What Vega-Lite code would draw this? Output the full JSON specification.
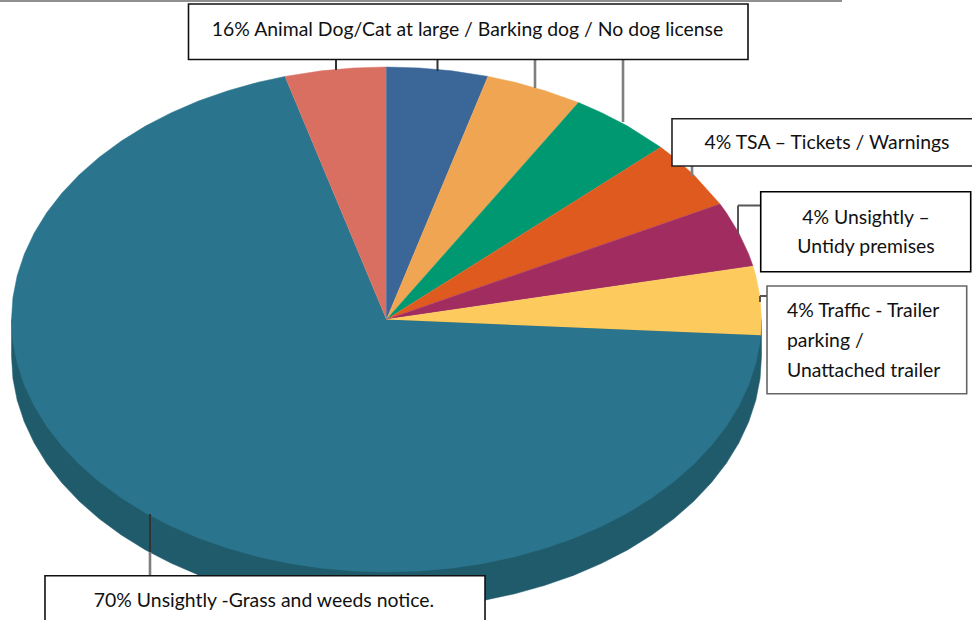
{"$schema":"https://vega.github.io/schema/vega-lite/v6.json","width":972,"height":620,"padding":0,"autosize":{"type":"none"},"background":"white","view":{"stroke":null},
"config":{"axis":{"disable":true},"text":{"font":"Lato"}},
"datasets":{
"rim":[{"p":0,"x":1,"y":0},{"p":1,"x":1,"y":-0.1465},{"p":2,"x":0.9962,"y":-0.2337},{"p":3,"x":0.9848,"y":-0.3201},{"p":4,"x":0.9659,"y":-0.4053},{"p":5,"x":0.9397,"y":-0.4885},{"p":6,"x":0.9063,"y":-0.5691},{"p":7,"x":0.866,"y":-0.6465},{"p":8,"x":0.8192,"y":-0.7201},{"p":9,"x":0.766,"y":-0.7893},{"p":10,"x":0.7071,"y":-0.8536},{"p":11,"x":0.6428,"y":-0.9125},{"p":12,"x":0.5736,"y":-0.9657},{"p":13,"x":0.5,"y":-1.0125},{"p":14,"x":0.4226,"y":-1.0528},{"p":15,"x":0.342,"y":-1.0862},{"p":16,"x":0.2588,"y":-1.1124},{"p":17,"x":0.1736,"y":-1.1313},{"p":18,"x":0.0872,"y":-1.1427},{"p":19,"x":0,"y":-1.1465},{"p":20,"x":-0.0872,"y":-1.1427},{"p":21,"x":-0.1736,"y":-1.1313},{"p":22,"x":-0.2588,"y":-1.1124},{"p":23,"x":-0.342,"y":-1.0862},{"p":24,"x":-0.4226,"y":-1.0528},{"p":25,"x":-0.5,"y":-1.0125},{"p":26,"x":-0.5736,"y":-0.9657},{"p":27,"x":-0.6428,"y":-0.9125},{"p":28,"x":-0.7071,"y":-0.8536},{"p":29,"x":-0.766,"y":-0.7893},{"p":30,"x":-0.8192,"y":-0.7201},{"p":31,"x":-0.866,"y":-0.6465},{"p":32,"x":-0.9063,"y":-0.5691},{"p":33,"x":-0.9397,"y":-0.4885},{"p":34,"x":-0.9659,"y":-0.4053},{"p":35,"x":-0.9848,"y":-0.3201},{"p":36,"x":-0.9962,"y":-0.2337},{"p":37,"x":-1,"y":-0.1465},{"p":38,"x":-1,"y":0}],
"slices":[
{"slice":"Grass and weeds","p":0,"x":0,"y":0},{"slice":"Grass and weeds","p":1,"x":0.998,"y":-0.0628},{"slice":"Grass and weeds","p":2,"x":0.9962,"y":-0.0872},{"slice":"Grass and weeds","p":3,"x":0.9848,"y":-0.1736},{"slice":"Grass and weeds","p":4,"x":0.9659,"y":-0.2588},{"slice":"Grass and weeds","p":5,"x":0.9397,"y":-0.342},{"slice":"Grass and weeds","p":6,"x":0.9063,"y":-0.4226},{"slice":"Grass and weeds","p":7,"x":0.866,"y":-0.5},{"slice":"Grass and weeds","p":8,"x":0.8192,"y":-0.5736},{"slice":"Grass and weeds","p":9,"x":0.766,"y":-0.6428},{"slice":"Grass and weeds","p":10,"x":0.7071,"y":-0.7071},{"slice":"Grass and weeds","p":11,"x":0.6428,"y":-0.766},{"slice":"Grass and weeds","p":12,"x":0.5736,"y":-0.8192},{"slice":"Grass and weeds","p":13,"x":0.5,"y":-0.866},{"slice":"Grass and weeds","p":14,"x":0.4226,"y":-0.9063},{"slice":"Grass and weeds","p":15,"x":0.342,"y":-0.9397},{"slice":"Grass and weeds","p":16,"x":0.2588,"y":-0.9659},{"slice":"Grass and weeds","p":17,"x":0.1736,"y":-0.9848},{"slice":"Grass and weeds","p":18,"x":0.0872,"y":-0.9962},{"slice":"Grass and weeds","p":19,"x":0,"y":-1},{"slice":"Grass and weeds","p":20,"x":-0.0872,"y":-0.9962},{"slice":"Grass and weeds","p":21,"x":-0.1736,"y":-0.9848},{"slice":"Grass and weeds","p":22,"x":-0.2588,"y":-0.9659},{"slice":"Grass and weeds","p":23,"x":-0.342,"y":-0.9397},{"slice":"Grass and weeds","p":24,"x":-0.4226,"y":-0.9063},{"slice":"Grass and weeds","p":25,"x":-0.5,"y":-0.866},{"slice":"Grass and weeds","p":26,"x":-0.5736,"y":-0.8192},{"slice":"Grass and weeds","p":27,"x":-0.6428,"y":-0.766},{"slice":"Grass and weeds","p":28,"x":-0.7071,"y":-0.7071},{"slice":"Grass and weeds","p":29,"x":-0.766,"y":-0.6428},{"slice":"Grass and weeds","p":30,"x":-0.8192,"y":-0.5736},{"slice":"Grass and weeds","p":31,"x":-0.866,"y":-0.5},{"slice":"Grass and weeds","p":32,"x":-0.9063,"y":-0.4226},{"slice":"Grass and weeds","p":33,"x":-0.9397,"y":-0.342},{"slice":"Grass and weeds","p":34,"x":-0.9659,"y":-0.2588},{"slice":"Grass and weeds","p":35,"x":-0.9848,"y":-0.1736},{"slice":"Grass and weeds","p":36,"x":-0.9962,"y":-0.0872},{"slice":"Grass and weeds","p":37,"x":-1,"y":0},{"slice":"Grass and weeds","p":38,"x":-0.9962,"y":0.0872},{"slice":"Grass and weeds","p":39,"x":-0.9848,"y":0.1736},{"slice":"Grass and weeds","p":40,"x":-0.9659,"y":0.2588},{"slice":"Grass and weeds","p":41,"x":-0.9397,"y":0.342},{"slice":"Grass and weeds","p":42,"x":-0.9063,"y":0.4226},{"slice":"Grass and weeds","p":43,"x":-0.866,"y":0.5},{"slice":"Grass and weeds","p":44,"x":-0.8192,"y":0.5736},{"slice":"Grass and weeds","p":45,"x":-0.766,"y":0.6428},{"slice":"Grass and weeds","p":46,"x":-0.7071,"y":0.7071},{"slice":"Grass and weeds","p":47,"x":-0.6428,"y":0.766},{"slice":"Grass and weeds","p":48,"x":-0.5736,"y":0.8192},{"slice":"Grass and weeds","p":49,"x":-0.5,"y":0.866},{"slice":"Grass and weeds","p":50,"x":-0.4226,"y":0.9063},{"slice":"Grass and weeds","p":51,"x":-0.342,"y":0.9397},{"slice":"Grass and weeds","p":52,"x":-0.2706,"y":0.9627},
{"slice":"Dog at large","p":0,"x":0,"y":0},{"slice":"Dog at large","p":1,"x":-0.2706,"y":0.9627},{"slice":"Dog at large","p":2,"x":-0.1736,"y":0.9848},{"slice":"Dog at large","p":3,"x":-0.0872,"y":0.9962},{"slice":"Dog at large","p":4,"x":0,"y":1},
{"slice":"Cat at large","p":0,"x":0,"y":0},{"slice":"Cat at large","p":1,"x":0,"y":1},{"slice":"Cat at large","p":2,"x":0.0872,"y":0.9962},{"slice":"Cat at large","p":3,"x":0.1736,"y":0.9848},{"slice":"Cat at large","p":4,"x":0.2706,"y":0.9627},
{"slice":"Barking dog","p":0,"x":0,"y":0},{"slice":"Barking dog","p":1,"x":0.2706,"y":0.9627},{"slice":"Barking dog","p":2,"x":0.342,"y":0.9397},{"slice":"Barking dog","p":3,"x":0.4226,"y":0.9063},{"slice":"Barking dog","p":4,"x":0.512,"y":0.859},
{"slice":"No dog license","p":0,"x":0,"y":0},{"slice":"No dog license","p":1,"x":0.512,"y":0.859},{"slice":"No dog license","p":2,"x":0.5736,"y":0.8192},{"slice":"No dog license","p":3,"x":0.6428,"y":0.766},{"slice":"No dog license","p":4,"x":0.7314,"y":0.682},
{"slice":"TSA","p":0,"x":0,"y":0},{"slice":"TSA","p":1,"x":0.7314,"y":0.682},{"slice":"TSA","p":2,"x":0.766,"y":0.6428},{"slice":"TSA","p":3,"x":0.8192,"y":0.5736},{"slice":"TSA","p":4,"x":0.8894,"y":0.4571},
{"slice":"Untidy premises","p":0,"x":0,"y":0},{"slice":"Untidy premises","p":1,"x":0.8894,"y":0.4571},{"slice":"Untidy premises","p":2,"x":0.9063,"y":0.4226},{"slice":"Untidy premises","p":3,"x":0.9397,"y":0.342},{"slice":"Untidy premises","p":4,"x":0.9659,"y":0.2588},{"slice":"Untidy premises","p":5,"x":0.9774,"y":0.2113},
{"slice":"Trailer parking","p":0,"x":0,"y":0},{"slice":"Trailer parking","p":1,"x":0.9774,"y":0.2113},{"slice":"Trailer parking","p":2,"x":0.9848,"y":0.1736},{"slice":"Trailer parking","p":3,"x":0.9962,"y":0.0872},{"slice":"Trailer parking","p":4,"x":1,"y":0},{"slice":"Trailer parking","p":5,"x":0.998,"y":-0.0628}],
"leaders":[
{"name":"top rule","x":-1.0307,"x2":1.2147,"y":1.2614,"y2":1.2614},
{"name":"dark","x":-0.1347,"x2":-0.1347,"y":1.0277,"y2":0.9881},
{"name":"dark","x":0.136,"x2":0.136,"y":1.0277,"y2":0.9842},
{"name":"grey","x":0.396,"x2":0.396,"y":1.0277,"y2":0.9168},
{"name":"grey","x":0.6307,"x2":0.6307,"y":1.0277,"y2":0.7822},
{"name":"grey","x":0.8147,"x2":0.8147,"y":0.6079,"y2":0.5683},
{"name":"mid","x":0.9373,"x2":0.9987,"y":0.4515,"y2":0.4515},
{"name":"mid","x":0.9373,"x2":0.9373,"y":0.4515,"y2":0.3386},
{"name":"mid","x":0.996,"x2":1.0147,"y":0.0931,"y2":0.0931},
{"name":"mid","x":0.996,"x2":0.996,"y":0.0931,"y2":0.0693},
{"name":"dark","x":-0.6307,"x2":-0.6307,"y":-0.7703,"y2":-0.9208},
{"name":"grey","x":-0.6307,"x2":-0.6307,"y":-0.9208,"y2":-1.0147}],
"boxes":[
{"name":"Animal","x":-0.528,"x2":0.964,"y":1.2495,"y2":1.0297},
{"name":"TSA","x":0.7613,"x2":1.5667,"y":0.7952,"y2":0.6079},
{"name":"Untidy","x":0.9979,"x2":1.5579,"y":0.5061,"y2":0.1893},
{"name":"Traffic","x":1.0147,"x2":1.5472,"y":0.1327,"y2":-0.2939},
{"name":"Grass","x":-0.9107,"x2":0.2627,"y":-1.0147,"y2":-1.2297}],
"centered":[
{"label":"16% Animal Dog/Cat at large / Barking dog / No dog license","x":0.216,"y":1.1505},
{"label":"4% TSA – Tickets / Warnings","x":1.1747,"y":0.703},
{"label":"4% Unsightly –","x":1.2787,"y":0.4059},
{"label":"Untidy premises","x":1.2787,"y":0.2911},
{"label":"70% Unsightly -Grass and weeds notice.","x":-0.3267,"y":-1.1109}],
"lefted":[
{"label":"4% Traffic - Trailer","x":1.068,"y":0.0376},
{"label":"parking /","x":1.068,"y":-0.0812},
{"label":"Unattached trailer","x":1.068,"y":-0.2}]
},
"encoding":{
"x":{"field":"x","type":"quantitative","scale":{"domain":[-1.03067,1.56133],"nice":false,"zero":false},"axis":null},
"y":{"field":"y","type":"quantitative","scale":{"domain":[-1.1901,1.26535],"nice":false,"zero":false},"axis":null}
},
"layer":[
{"data":{"name":"rim"},"mark":{"type":"line","filled":true,"fill":"#205b6c","stroke":"#205b6c","strokeWidth":0.5},"encoding":{"order":{"field":"p","type":"quantitative"}}},
{"data":{"name":"slices"},"mark":{"type":"line","filled":true,"strokeWidth":0.5},"encoding":{
"order":{"field":"p","type":"quantitative"},
"fill":{"field":"slice","type":"nominal","legend":null,"scale":{"domain":["Grass and weeds","Dog at large","Cat at large","Barking dog","No dog license","TSA","Untidy premises","Trailer parking"],"range":["#2a758d","#d96f60","#3b6698","#f0a552","#009870","#df5a1f","#a12d60","#fdcb5d"]}},
"stroke":{"field":"slice","type":"nominal","legend":null,"scale":{"domain":["Grass and weeds","Dog at large","Cat at large","Barking dog","No dog license","TSA","Untidy premises","Trailer parking"],"range":["#2a758d","#d96f60","#3b6698","#f0a552","#009870","#df5a1f","#a12d60","#fdcb5d"]}}}},
{"data":{"name":"leaders"},"transform":[{"filter":"datum.name === 'top rule'"}],"mark":{"type":"rule","stroke":"#222222","strokeWidth":1.2},"encoding":{"x2":{"field":"x2"},"y2":{"field":"y2"}}},
{"data":{"name":"leaders"},"transform":[{"filter":"datum.name === 'dark'"}],"mark":{"type":"rule","stroke":"#333333","strokeWidth":2},"encoding":{"x2":{"field":"x2"},"y2":{"field":"y2"}}},
{"data":{"name":"leaders"},"transform":[{"filter":"datum.name === 'mid'"}],"mark":{"type":"rule","stroke":"#555555","strokeWidth":2},"encoding":{"x2":{"field":"x2"},"y2":{"field":"y2"}}},
{"data":{"name":"leaders"},"transform":[{"filter":"datum.name === 'grey'"}],"mark":{"type":"rule","stroke":"#7f7f7f","strokeWidth":2.6},"encoding":{"x2":{"field":"x2"},"y2":{"field":"y2"}}},
{"data":{"name":"boxes"},"mark":{"type":"rect","fill":"white"},"encoding":{
"x2":{"field":"x2"},"y2":{"field":"y2"},
"stroke":{"field":"name","type":"nominal","legend":null,"scale":{"domain":["Animal","TSA","Untidy","Traffic","Grass"],"range":["#111111","#222222","#000000","#666666","#111111"]}},
"strokeWidth":{"field":"name","type":"nominal","legend":null,"scale":{"domain":["Animal","TSA","Untidy","Traffic","Grass"],"range":[1.6,1.6,2,1,1.6]}}}},
{"data":{"name":"centered"},"mark":{"type":"text","align":"center","baseline":"middle","font":"Lato","fontSize":19.4,"dy":1,"fill":"#111111"},"encoding":{"text":{"field":"label","type":"nominal"}}},
{"data":{"name":"lefted"},"mark":{"type":"text","align":"left","baseline":"middle","font":"Lato","fontSize":19.4,"dy":1,"fill":"#111111"},"encoding":{"text":{"field":"label","type":"nominal"}}}
],
"resolve":{"scale":{"stroke":"independent","strokeWidth":"independent"}}
}
